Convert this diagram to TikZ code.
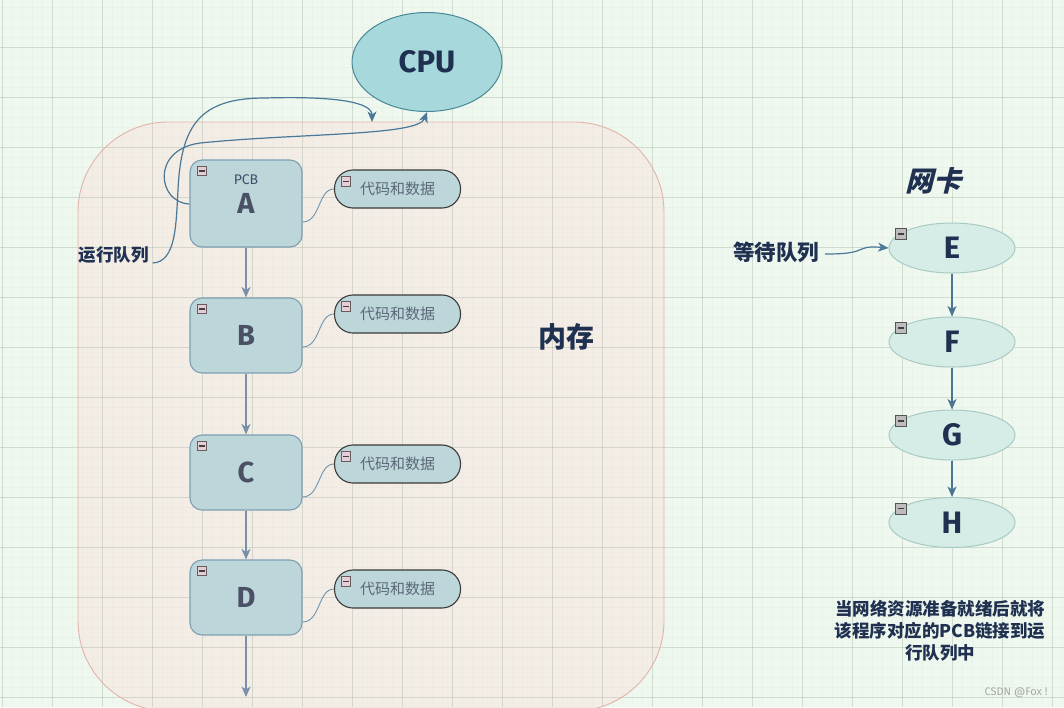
\documentclass[tikz,border=0pt]{standalone}
\usepackage{fontspec}
\setmainfont{Fira Sans}
\newfontfamily\cjk{Noto Sans CJK SC}
\newfontfamily\cjksl{Noto Sans CJK SC}[FakeSlant=0.25, BoldFeatures={FakeSlant=0.25}]
\usetikzlibrary{arrows.meta,calc,shapes.geometric}
\definecolor{bg}{HTML}{EFF8EE}
\definecolor{memfill}{HTML}{F3EDE5}
\definecolor{memline}{HTML}{E2B4AA}
\definecolor{gridc}{HTML}{9AA89A}
\definecolor{cpufill}{HTML}{A7D8DB}
\definecolor{cpuline}{HTML}{4A8896}
\definecolor{pcbfill}{HTML}{BDD6DA}
\definecolor{pcbline}{HTML}{7D9FB2}
\definecolor{letter}{HTML}{4A5066}
\definecolor{navy}{HTML}{1F3050}
\definecolor{pillline}{HTML}{3A3A3A}
\definecolor{pilltext}{HTML}{5A6878}
\definecolor{ellfill}{HTML}{D5ECE7}
\definecolor{ellline}{HTML}{A8CAC6}
\definecolor{arrowA}{HTML}{7890A8}
\definecolor{arrowB}{HTML}{4A7595}
\definecolor{curvec}{HTML}{4A7898}
\definecolor{minpink}{HTML}{E6CDD5}
\definecolor{mingray}{HTML}{BDBDBD}
\begin{document}
\begin{tikzpicture}[x=1pt,y=-1pt,
  pcb/.style={draw=pcbline, fill=pcbfill, rounded corners=12pt, line width=1.1pt,
    minimum width=112pt, minimum height=75pt, inner sep=0pt, text=letter,
    font=\bfseries\fontsize{29}{29}\selectfont},
  pill/.style={draw=pillline, fill=pcbfill, rounded corners=18.5pt, line width=1.1pt,
    minimum width=126pt, minimum height=38pt, inner sep=0pt, text=pilltext,
    font=\cjk\fontsize{15}{15}\selectfont},
  nic/.style={ellipse, draw=ellline, fill=ellfill, line width=1pt,
    minimum width=126pt, minimum height=50pt, inner sep=0pt, text=navy,
    font=\bfseries\fontsize{31}{31}\selectfont},
  minusicon/.style={draw=#1!45!black, fill=#1, line width=0.6pt, minimum size=9.5pt, inner sep=0pt,
    path picture={\draw[line width=1.1pt, black!75]
      ([xshift=2.2pt]path picture bounding box.west) -- ([xshift=-2.2pt]path picture bounding box.east);}},
  linkA/.style={draw=arrowA, line width=1.4pt, -{Stealth[length=10.5pt,width=9pt,inset=3pt]}},
  linkB/.style={draw=arrowB, line width=1.3pt, -{Stealth[length=10.5pt,width=9pt,inset=3pt]}},
  curve/.style={draw=curvec, line width=1.2pt, -{Stealth[length=10.5pt,width=9pt,inset=3pt]}},
  tie/.style={draw=curvec!80, line width=0.9pt},
  lbl/.style={text=navy, inner sep=0pt}
]
\useasboundingbox (0,0) rectangle (1064,707);
\clip (0,0) rectangle (1064,707);
% background and memory area
\fill[bg] (0,0) rectangle (1064,707);
\fill[memfill, rounded corners=90pt] (78,122) rectangle (664,711);
% grid
\foreach \x in {2.5,12.5,...,1062.5} \draw[gridc, opacity=0.05, line width=0.6pt] (\x,0) -- (\x,707);
\foreach \y in {7,17,...,707} \draw[gridc, opacity=0.05, line width=0.6pt] (0,\y) -- (1064,\y);
\foreach \x in {2.5,52.5,...,1062.5} \draw[gridc, opacity=0.3, line width=0.7pt] (\x,0) -- (\x,707);
\foreach \y in {47,97,...,707} \draw[gridc, opacity=0.3, line width=0.7pt] (0,\y) -- (1064,\y);
\draw[memline, line width=0.9pt, rounded corners=90pt] (78,122) rectangle (664,711);

% CPU
\node[ellipse, draw=cpuline, fill=cpufill, line width=1pt, minimum width=150pt, minimum height=99pt,
  text=navy, font=\bfseries\fontsize{31}{31}\selectfont] (cpu) at (427,62) {CPU};

% PCB boxes
\node[pcb, minimum height=87pt] (A) at (246,203.5) {\raisebox{-3pt}{A}};
\node[pcb] (B) at (246,335.5) {B};
\node[pcb] (C) at (246,472.5) {C};
\node[pcb] (D) at (246,597.5) {D};
\node[text=navy!85, font=\fontsize{14}{14}\selectfont, inner sep=0pt] (pcbA) at (246,180) {PCB};
\foreach \n in {A,B,C,D}
  \node[minusicon=minpink] (m\n) at ($(\n.north west)+(12.5,11.5)$) {};

% code & data pills
\node[pill] (pA) at (397.5,189) {代码和数据};
\node[pill] (pB) at (397.5,314) {代码和数据};
\node[pill] (pC) at (397.5,464) {代码和数据};
\node[pill] (pD) at (397.5,589) {代码和数据};
\foreach \n in {A,B,C,D}
  \node[minusicon=minpink] (mp\n) at ($(p\n.north west)+(12,12)$) {};

% box -> pill ties
\draw[tie] ([yshift=-18.5pt]A.east) .. controls +(18,0) and +(-16,0) .. (pA.west);
\draw[tie] ([yshift=-11.5pt]B.east) .. controls +(18,0) and +(-16,0) .. (pB.west);
\draw[tie] ([yshift=-24.5pt]C.east) .. controls +(18,0) and +(-16,0) .. (pC.west);
\draw[tie] ([yshift=-24.5pt]D.east) .. controls +(18,0) and +(-16,0) .. (pD.west);

% queue arrows
\draw[linkA] (A.south) -- (B.north);
\draw[linkA] (B.south) -- (C.north);
\draw[linkA] (C.south) -- (D.north);
\coordinate (Dend) at (246,697);
\draw[linkA] (D.south) -- (Dend);

% run queue label and curves
\node[lbl, font=\cjk\bfseries\fontsize{17.5}{17.5}\selectfont] (run) at (113.5,255) {运行队列};
\coordinate (runend) at (372,122);
\draw[curve] ($(run.east)+(4,8)$) .. controls (176,262) and (176,225) .. (178,190)
  .. controls (181,125) and (200,98) .. (265,98)
  .. controls (335,96) and (372,102) .. (runend);
\draw[curve] ([yshift=-0.5pt]A.west) .. controls (158,203) and (150,150) .. (200,143)
  .. controls (300,133) and (418,136) .. (cpu.south);

% memory label
\node[lbl, font=\cjk\bfseries\fontsize{28}{28}\selectfont] (mem) at (566,337) {内存};

% network card side
\node[lbl, font=\cjksl\bfseries\fontsize{28}{28}\selectfont] (nic) at (933,181) {网卡};
\node[lbl, font=\cjk\bfseries\fontsize{21.5}{21.5}\selectfont] (wait) at (776,252) {等待队列};
\node[nic] (E) at (952,248) {E};
\node[nic] (F) at (952,342) {F};
\node[nic] (G) at (952,435) {\raisebox{-1pt}{G}};
\node[nic] (H) at (952,522.5) {H};
\foreach \n in {E,F,G,H}
  \node[minusicon=mingray, minimum size=11pt] (m\n) at ($(\n.center)+(-51,-14)$) {};
\path (wait.east) ++(6,2) coordinate (wstart);
\draw[curve] (wstart) .. controls (850,254) and (855,252) .. (862,249)
  .. controls (868,246) and (876,247) .. (E.west);
\draw[linkB] (E.south) -- (F.north);
\draw[linkB] (F.south) -- (G.north);
\draw[linkB] (G.south) -- (H.north);

% note
\node[lbl, align=center, font=\cjk\bfseries\fontsize{17.5}{22}\selectfont] (note) at (940,631)
  {当网络资源准备就绪后就将\\该程序对应的PCB链接到运\\行队列中};
\node[text=black!35, inner sep=0pt, font=\fontsize{11}{11}\selectfont] (wm) at (1016,693) {CSDN @Fox !};
\end{tikzpicture}
\end{document}
